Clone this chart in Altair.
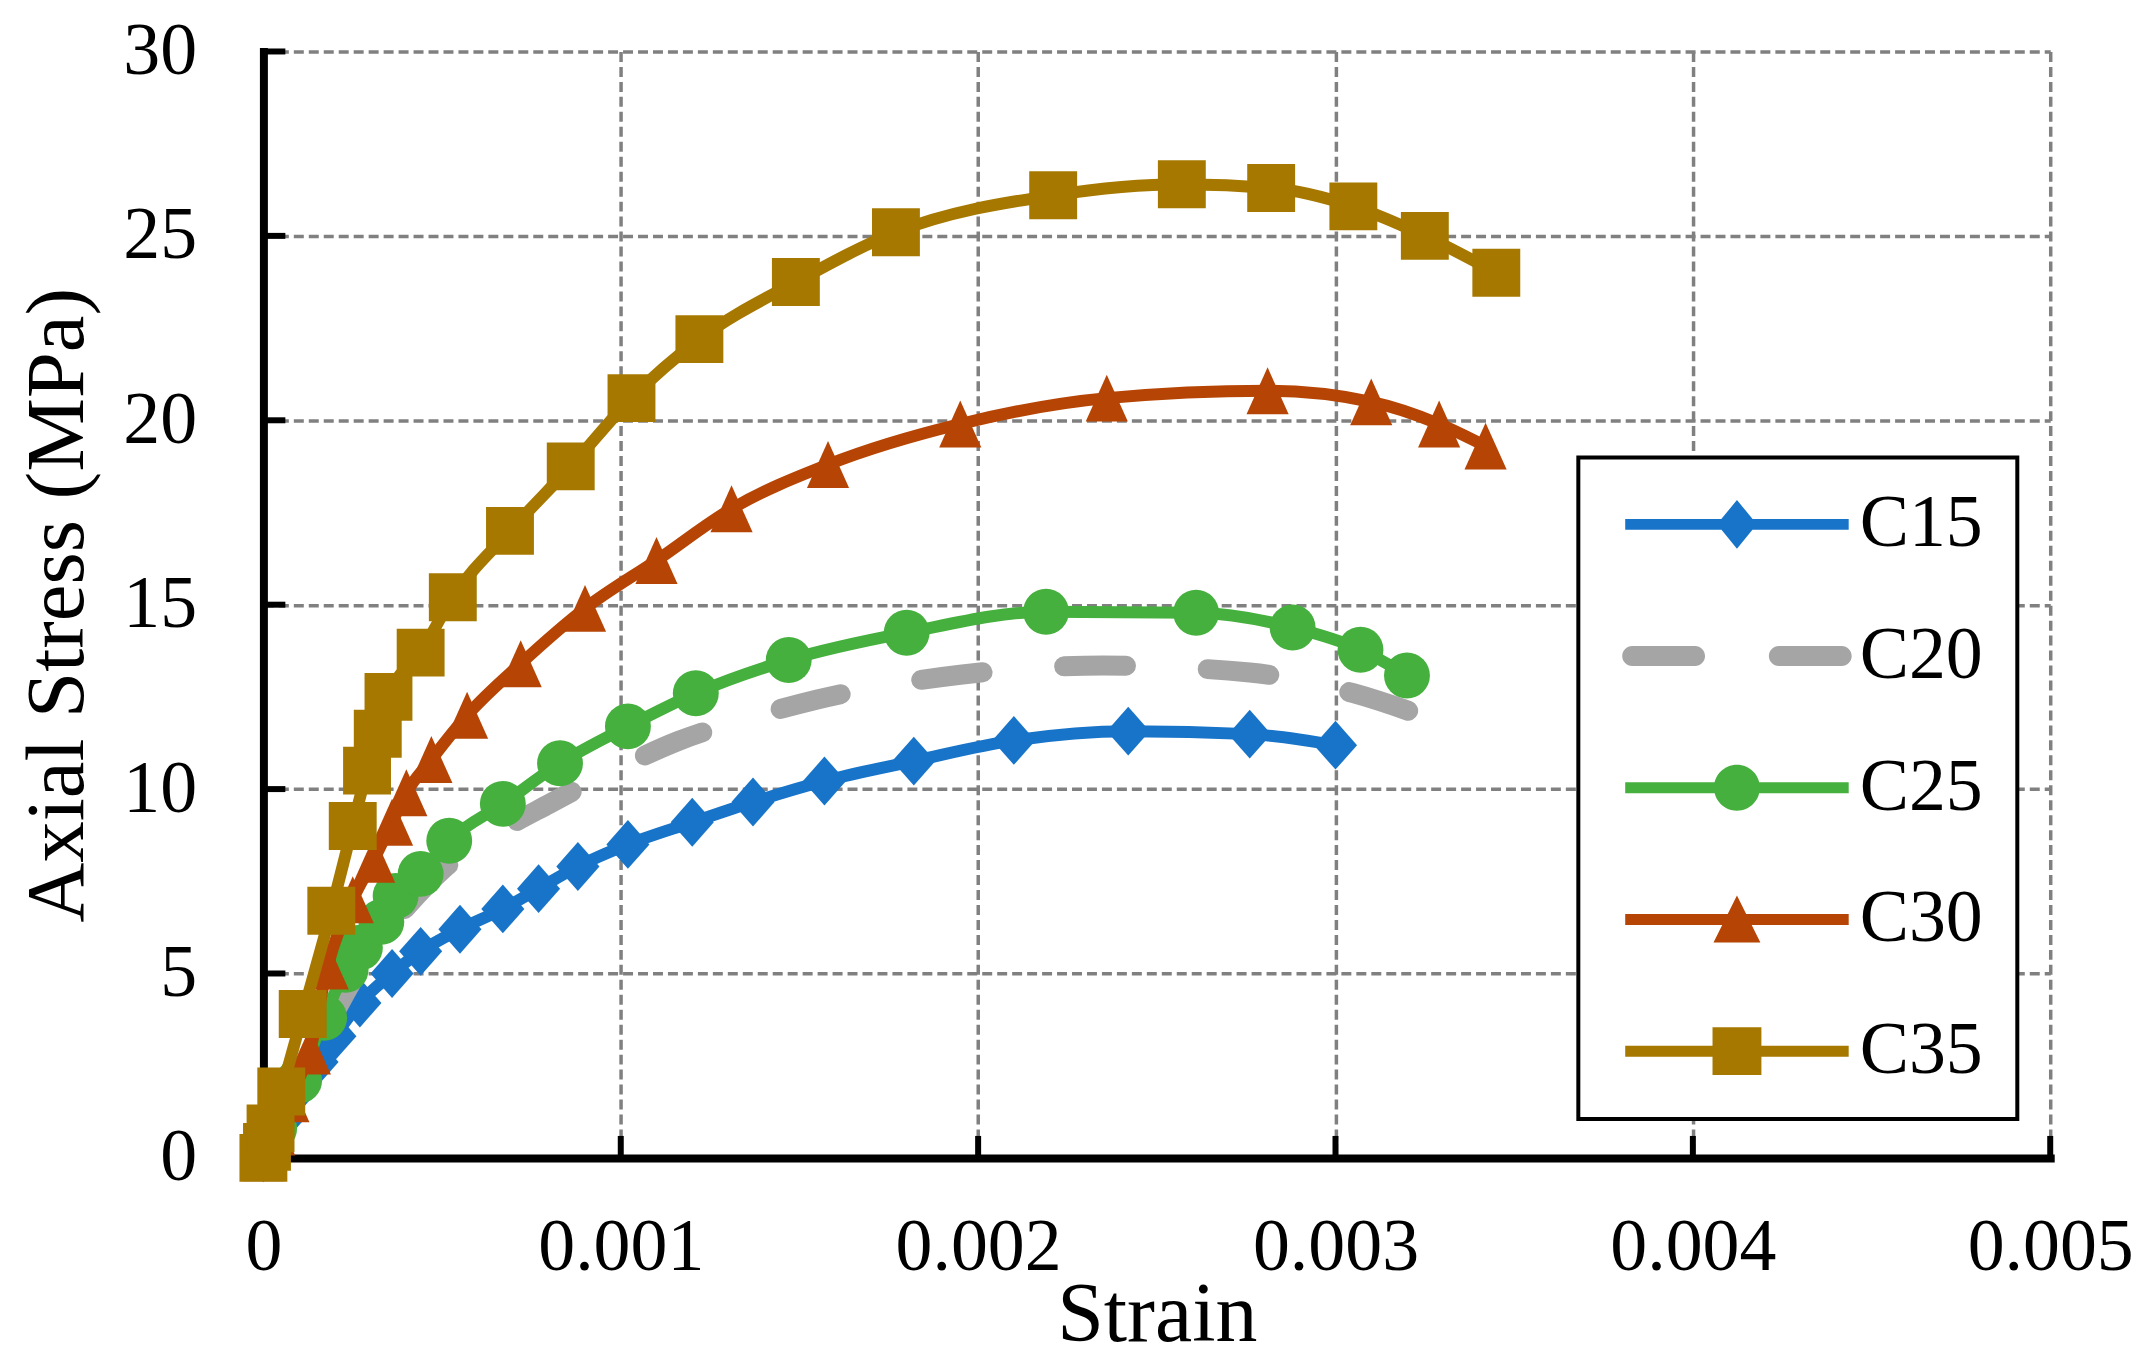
import altair as alt
import pandas as pd

series_names = ["C15", "C20", "C25", "C30", "C35"]
series_colors = ["#1874C9", "#A5A5A5", "#45B03D", "#B64505", "#A67800"]

c15_strain = [0, 0.00005, 0.0001, 0.00015, 0.0002, 0.00027, 0.00036, 0.00044, 0.00055, 0.00067,
              0.00077, 0.00088, 0.00102, 0.0012, 0.00137, 0.00157, 0.00182, 0.0021, 0.00242, 0.00276, 0.003]
c15_stress = [0, 1.0, 1.9, 2.6, 3.3, 4.2, 5.0, 5.6, 6.2, 6.75,
              7.3, 7.9, 8.5, 9.1, 9.65, 10.22, 10.76, 11.32, 11.57, 11.49, 11.19]

c20_strain = [0, 0.00005, 0.0001, 0.00016, 0.00022, 0.0003, 0.0004, 0.0005, 0.00065, 0.0008,
              0.001, 0.00116, 0.00135, 0.00155, 0.00195, 0.00235, 0.00276, 0.00305, 0.00324]
c20_stress = [0, 1.0, 2.0, 3.2, 4.3, 5.6, 6.8, 7.8, 8.8, 9.6,
              10.6, 11.3, 11.9, 12.43, 13.1, 13.35, 13.16, 12.6, 12.0]

c25_strain = [0, 0.00003, 0.0001, 0.00017, 0.00023, 0.00027, 0.00033, 0.00037, 0.00044, 0.00052,
              0.00067, 0.00083, 0.00102, 0.00121, 0.00147, 0.0018, 0.00219, 0.00261, 0.00288, 0.00307, 0.0032]
c25_stress = [0, 0.8, 2.1, 3.8, 5.1, 5.7, 6.4, 7.1, 7.7, 8.6,
              9.6, 10.7, 11.7, 12.6, 13.5, 14.24, 14.81, 14.78, 14.38, 13.78, 13.08]

c30_strain = [0, 0.00003, 0.00007, 0.00013, 0.00018, 0.00025, 0.00031, 0.00036, 0.0004, 0.00047, 0.00057,
              0.00072, 0.0009, 0.0011, 0.00131, 0.00158, 0.00195, 0.00236, 0.00281, 0.0031, 0.00329, 0.00342]
c30_stress = [0, 0.7, 1.6, 2.9, 5.2, 7.0, 8.1, 9.1, 9.9, 10.8, 12.0,
              13.4, 14.9, 16.2, 17.6, 18.8, 19.9, 20.6, 20.8, 20.5, 19.9, 19.3]

c35_strain = [0, 0.00001, 0.00002, 0.00005, 0.00011, 0.00019, 0.00025, 0.00029, 0.00032, 0.00035, 0.00044, 0.00053,
              0.00069, 0.00086, 0.00103, 0.00122, 0.00149, 0.00177, 0.00221, 0.00257, 0.00282, 0.00305, 0.00325, 0.00345]
c35_stress = [0, 0.3, 0.8, 1.8, 3.9, 6.7, 9.0, 10.5, 11.5, 12.5, 13.7, 15.2,
              17.0, 18.75, 20.6, 22.2, 23.75, 25.1, 26.1, 26.4, 26.3, 25.8, 25.0, 24.0]

x_tick_values = [0, 0.001, 0.002, 0.003, 0.004, 0.005]
y_tick_values = [0, 5, 10, 15, 20, 25, 30]

series_data = {
    "C15": (c15_strain, c15_stress),
    "C20": (c20_strain, c20_stress),
    "C25": (c25_strain, c25_stress),
    "C30": (c30_strain, c30_stress),
    "C35": (c35_strain, c35_stress),
}
color_of = dict(zip(series_names, series_colors))

rows = []
for name in series_names:
    xs, ys = series_data[name]
    for i, (sx, sy) in enumerate(zip(xs, ys)):
        rows.append({"series": name, "strain": sx, "stress": sy, "idx": i})
df = pd.DataFrame(rows)

xt_df = pd.DataFrame({"strain": x_tick_values[1:]})
yt_df = pd.DataFrame({"stress": y_tick_values[1:]})
box_df = pd.DataFrame({"box": [0]})

W, H = 1791, 1109
FONT = "Liberation Serif"

# marker shapes (plot)
DIAMOND = "M0,-1.02L0.9,0L0,1.02L-0.9,0Z"
TRIANGLE = "M0,-0.98L0.88,0.98L-0.88,0.98Z"

# legend symbol paths (line + marker), unit = 25px
legend_paths = [
    "M-4.48,-0.22H4.48V0.22H-4.48Z M0,-0.98L0.8,0L0,0.98L-0.8,0Z",
    "M-4.2,-0.4H-1.68A0.4,0.4 0 0 1 -1.68,0.4H-4.2A0.4,0.4 0 0 1 -4.2,-0.4Z "
    "M1.68,-0.4H4.2A0.4,0.4 0 0 1 4.2,0.4H1.68A0.4,0.4 0 0 1 1.68,-0.4Z",
    "M-4.48,-0.22H4.48V0.22H-4.48Z M-0.92,0A0.92,0.92 0 1 1 0.92,0A0.92,0.92 0 1 1 -0.92,0Z",
    "M-4.48,-0.22H4.48V0.22H-4.48Z M0,-0.96L0.94,0.92L-0.94,0.92Z",
    "M-4.48,-0.22H4.48V0.22H-4.48Z M-0.98,-0.96H0.98V0.96H-0.98Z",
]

legend = alt.Legend(
    title=None,
    orient="none",
    legendX=1318,
    legendY=407,
    padding=30,
    rowPadding=58,
    symbolSize=2500,
    symbolOffset=92,
    symbolOpacity=1,
    symbolStrokeWidth=0,
    labelOffset=86,
    labelFont=FONT,
    labelFontSize=74,
    labelColor="#000000",
    labelLimit=400,
)

x_enc = alt.X(
    "strain:Q",
    scale=alt.Scale(domain=[0, 0.005], nice=False, zero=False),
    title="Strain",
    axis=alt.Axis(
        values=x_tick_values,
        labelExpr="datum.value == 0 ? '0' : format(datum.value, '.3f')",
        labelFont=FONT, labelFontSize=74, labelColor="#000000",
        labelPadding=112, labelBaseline="alphabetic", labelFlush=False, labelOverlap=False,
        ticks=False, tickSize=0,
        domainColor="#000000", domainWidth=8, domainCap="square",
        grid=True, gridColor="#808080", gridDash=[10, 5], gridWidth=3.5,
        titleFont=FONT, titleFontSize=84, titleFontWeight="normal", titleColor="#000000",
        titleX=W / 2, titleY=183, titleBaseline="alphabetic", titleAlign="center",
    ),
)
y_enc = alt.Y(
    "stress:Q",
    scale=alt.Scale(domain=[0, 30], nice=False),
    title="Axial Stress (MPa)",
    axis=alt.Axis(
        values=y_tick_values,
        format="d",
        labelFont=FONT, labelFontSize=74, labelColor="#000000",
        labelPadding=67, labelBaseline="middle", labelAlign="right", labelFlush=False, labelOverlap=False,
        ticks=False, tickSize=0,
        domainColor="#000000", domainWidth=8, domainCap="square",
        grid=True, gridColor="#808080", gridDash=[10, 5], gridWidth=3.5,
        titleFont=FONT, titleFontSize=83, titleFontWeight="normal", titleColor="#000000",
        titleX=-181, titleY=H / 2, titleAngle=270, titleBaseline="alphabetic", titleAlign="center",
    ),
)

base = alt.Chart(df).encode(x=x_enc, y=y_enc, order="idx:Q")

layers = []
# inward ticks
layers.append(alt.Chart(xt_df).mark_rule(color="#000000", strokeWidth=6).encode(
    x=x_enc, y=alt.value(H), y2=alt.value(H - 22)))
layers.append(alt.Chart(yt_df).mark_rule(color="#000000", strokeWidth=6).encode(
    y=y_enc, x=alt.value(0), x2=alt.value(22)))

markers = {
    "C15": dict(shape=DIAMOND, size=2304),
    "C25": dict(shape="circle", size=2116),
    "C30": dict(shape=TRIANGLE, size=2304),
    "C35": dict(shape="square", size=2304),
}

for name in series_names:
    sub = base.transform_filter(alt.datum.series == name)
    col = color_of[name]
    if name == "C20":
        layers.append(sub.mark_line(interpolate="monotone", strokeWidth=20, strokeDash=[62, 82],
                                    strokeCap="round", strokeJoin="round", color=col))
    else:
        layers.append(sub.mark_line(interpolate="monotone", strokeWidth=12,
                                    strokeCap="round", strokeJoin="round", color=col))
        layers.append(sub.mark_point(filled=True, opacity=1, strokeWidth=0, color=col, **markers[name]))

# legend frame
layers.append(alt.Chart(box_df).mark_rect(fill="#FFFFFF", stroke="#000000", strokeWidth=4).encode(
    x=alt.value(1318), x2=alt.value(1758), y=alt.value(407), y2=alt.value(1070)))

# legend carrier layer (draws no marks, only provides the legend from its scales)
legend_layer = alt.Chart(df).transform_filter(alt.datum.idx < 0).mark_point(
    filled=True, opacity=1, strokeWidth=0).encode(
    x=x_enc, y=y_enc,
    color=alt.Color("series:N", scale=alt.Scale(domain=series_names, range=series_colors), legend=legend),
    shape=alt.Shape("series:N", scale=alt.Scale(domain=series_names, range=legend_paths), legend=legend),
)
layers.append(legend_layer)

chart = alt.layer(*layers).properties(
    width=W,
    height=H,
    padding={"left": 256, "top": 42, "right": 95, "bottom": 202},
    autosize=alt.AutoSizeParams(type="none"),
    background="#FFFFFF",
).configure_view(strokeWidth=0)

chart.save("out.html", embed_options={"renderer": "svg", "actions": False})
